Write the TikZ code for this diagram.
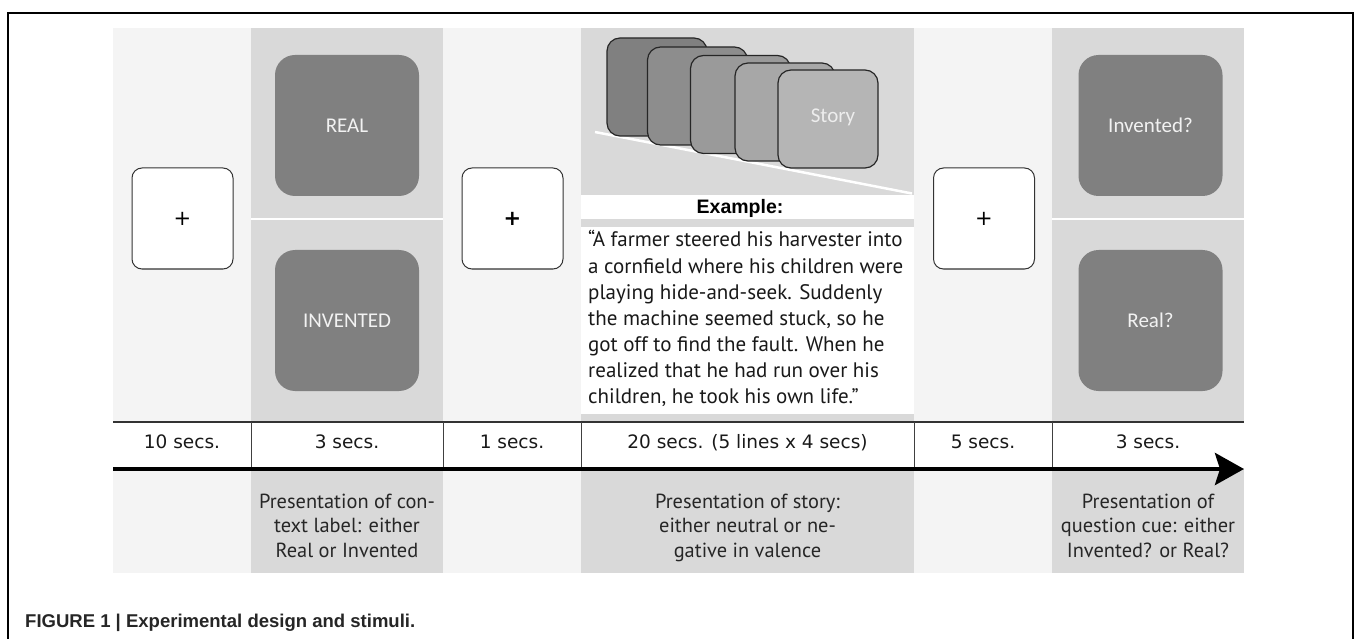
\documentclass[tikz,border=0pt]{standalone}
\usepackage{fontspec}
\setmainfont{PT Sans}
\newfontfamily\dvs{DejaVu Sans}
\newfontfamily\calfont{Carlito}
\newfontfamily\arialf{Liberation Sans}
\newcommand\descfont{\fontsize{20.4}{24.5}\selectfont}
\newcommand\storyfont{\fontsize{21}{26}\selectfont}
\newcommand\secsfont{\dvs\fontsize{18.5}{22}\selectfont}
\newcommand\captext{\arialf\bfseries\fontsize{18.5}{22}\selectfont}
\usetikzlibrary{arrows.meta}
\definecolor{lightbg}{HTML}{F4F4F4}
\definecolor{graybg}{HTML}{D9D9D9}
\definecolor{darkbox}{HTML}{808080}
\definecolor{cardA}{HTML}{808080}
\definecolor{cardB}{HTML}{8D8D8D}
\definecolor{cardC}{HTML}{9A9A9A}
\definecolor{cardD}{HTML}{A7A7A7}
\definecolor{cardE}{HTML}{B5B5B5}
\tikzset{
  fixbox/.style={draw=black!80, line width=1pt, fill=white, rounded corners=10pt,
    minimum width=101pt, minimum height=101pt, inner sep=0pt,
    font=\dvs\fontsize{21}{21}\selectfont},
  labelbox/.style={fill=darkbox, rounded corners=20pt, minimum width=144pt,
    minimum height=141pt, inner sep=0pt, text=white!95!black,
    font=\calfont\fontsize{21}{24}\selectfont},
  card/.style={draw=black!85, line width=1.2pt, rounded corners=13pt,
    minimum width=100pt, minimum height=98pt, inner sep=0pt},
  secsnode/.style={font=\secsfont, anchor=base, inner sep=0pt, text=black!90},
  descnode/.style={font=\descfont, anchor=base, inner sep=0pt, text=black!85},
  storynode/.style={font=\storyfont, anchor=base west, inner sep=0pt, text=black!90},
  divider/.style={draw=black!75, line width=1pt}
}
\begin{document}
\begin{tikzpicture}[x=1pt,y=-1pt]
\useasboundingbox (0,0) rectangle (1355,639);
\fill[white] (0,0) rectangle (1355,639);
% frame
\draw[line width=2pt] (8,639) -- (8,13) -- (1353,13) -- (1353,639);
% column backgrounds
\fill[lightbg] (113,28) rectangle (251,573);
\fill[graybg]  (251,28) rectangle (443,573);
\fill[lightbg] (443,28) rectangle (581,573);
\fill[graybg]  (581,28) rectangle (914,573);
\fill[lightbg] (914,28) rectangle (1052,573);
\fill[graybg]  (1052,28) rectangle (1244,573);
% white separators in label columns
\draw[white, line width=2pt] (251,219) -- (443,219);
\draw[white, line width=2pt] (1052,219) -- (1244,219);
% story column white areas
\fill[white] (581,195) rectangle (914,219);
\fill[white] (581,227) rectangle (914,414);
% timeline row
\fill[white] (113,422) rectangle (1244,469);
% fixation boxes
\node[fixbox] (fix1) at (182.5,218.5) {+};
\node[fixbox, font=\dvs\bfseries\fontsize{21}{21}\selectfont] (fix2) at (512.5,218.5) {+};
\node[fixbox] (fix3) at (984,218.5) {+};
% context labels
\node[labelbox] (real) at (347,125.5) {REAL};
\node[labelbox] (invented) at (347,320.5) {INVENTED};
% question cues
\node[labelbox] (qinv) at (1150.5,125.5) {Invented?};
\node[labelbox] (qreal) at (1150.5,320.5) {Real?};
% story cards
\draw[white, line width=2.5pt] (595,132) -- (912,193.5);
\node[card, fill=cardA] (c1) at (657,87) {};
\node[card, fill=cardB] (c2) at (697.5,96) {};
\node[card, fill=cardC] (c3) at (740.5,104.5) {};
\node[card, fill=cardD] (c4) at (785,112) {};
\node[card, fill=cardE] (c5) at (828,119) {};
\node[font=\calfont\fontsize{21}{24}\selectfont, text=white!93!black, inner sep=0pt] (storylbl) at (833,117) {Story};
% example
\node[font=\arialf\bfseries\fontsize{19.5}{22}\selectfont, anchor=base, inner sep=0pt] (ex) at (740,213.5) {Example:};
\node[storynode] (s1) at (588,247) {“A farmer steered his harvester into};
\node[storynode] (s2) at (588,273) {a cornfield where his children were};
\node[storynode] (s3) at (588,299) {playing hide-and-seek. Suddenly};
\node[storynode] (s4) at (588,325) {the machine seemed stuck, so he};
\node[storynode] (s5) at (588,351) {got off to find the fault. When he};
\node[storynode] (s6) at (588,377) {realized that he had run over his};
\node[storynode] (s7) at (588,403) {children, he took his own life.”};
% timeline
\draw[line width=1.5pt, black!80] (113,422) -- (1244,422);
\foreach \xx in {251,443,581,914,1052} \draw[divider] (\xx,422) -- (\xx,469);
\node[secsnode] (t1) at (182,448) {10 secs.};
\node[secsnode] (t2) at (347,448) {3 secs.};
\node[secsnode] (t3) at (512,448) {1 secs.};
\node[secsnode] (t4) at (747.5,448) {20 secs. (5 lines x 4 secs)};
\node[secsnode] (t5) at (983,448) {5 secs.};
\node[secsnode] (t6) at (1148,448) {3 secs.};
\coordinate (tstart) at (113,469);
\coordinate (tend) at (1244,469);
\draw[line width=4.5pt, -{Stealth[length=29pt,width=32pt,inset=5pt]}] (tstart) -- (tend);
% descriptions
\node[descnode] (d1a) at (347,508) {Presentation of con-};
\node[descnode] (d1b) at (347,532.5) {text label: either};
\node[descnode] (d1c) at (347,557) {Real or Invented};
\node[descnode] (d2a) at (747.5,508) {Presentation of story:};
\node[descnode] (d2b) at (747.5,532.5) {either neutral or ne-};
\node[descnode] (d2c) at (747.5,557) {gative in valence};
\node[descnode] (d3a) at (1148,508) {Presentation of};
\node[descnode] (d3b) at (1148,532.5) {question cue: either};
\node[descnode] (d3c) at (1148,557) {Invented? or Real?};
% caption
\node[anchor=base west, inner sep=0pt, text=black!85] (cap) at (25,627) {\resizebox{390pt}{!}{\captext FIGURE 1 | Experimental design and stimuli.}};
\end{tikzpicture}
\end{document}
